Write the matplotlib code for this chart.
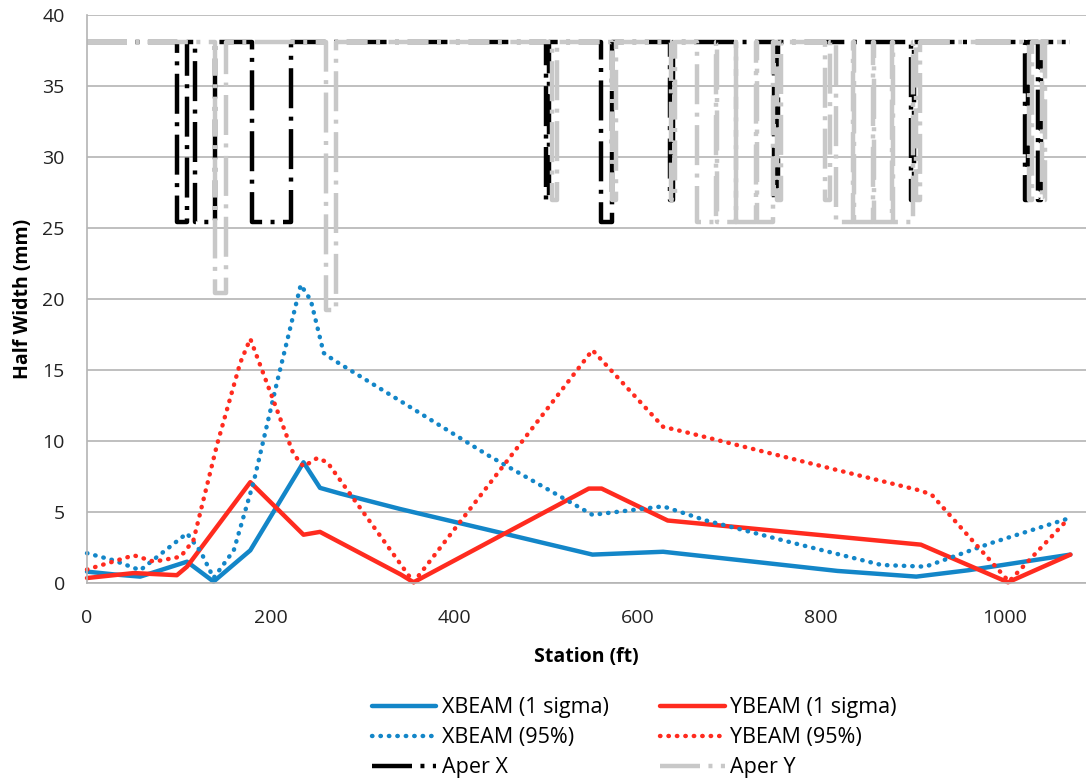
import numpy as np
import matplotlib.pyplot as plt

plt.rcParams['font.family'] = ['Open Sans', 'DejaVu Sans']

# beam half widths (station in ft, half width in mm)
xb_sig_s = [0, 30, 58, 80, 109, 138, 178, 236, 254, 276, 342, 450, 551, 628, 713, 818, 904, 961, 1072]
xb_sig_v = [0.8, 0.6, 0.45, 0.9, 1.5, 0.1, 2.3, 8.5, 6.7, 6.3, 5.2, 3.55, 2.0, 2.2, 1.6, 0.85, 0.45, 0.9, 2.0]

yb_sig_s = [0, 51, 98, 109, 178, 236, 254, 342, 356, 547, 561, 633, 909, 1004, 1072]
yb_sig_v = [0.35, 0.7, 0.55, 1.15, 7.1, 3.4, 3.6, 0.6, 0.05, 6.65, 6.65, 4.4, 2.7, 0.05, 2.0]

xb_95_s = [0, 29, 58, 109, 124, 138, 160, 182, 207, 233, 244, 258, 269, 342, 437, 551, 628, 675, 771, 866, 914, 985, 1070]
xb_95_v = [2.1, 1.6, 0.9, 3.5, 2.2, 0.35, 2.3, 7.2, 14.1, 21.0, 19.9, 16.2, 15.7, 12.8, 9.0, 4.8, 5.4, 4.4, 2.8, 1.27, 1.15, 2.8, 4.55]

yb_95_s = [0, 51, 73, 102, 116, 142, 167, 178, 196, 225, 236, 251, 262, 356, 551, 628, 651, 818, 909, 921, 1005, 1068]
yb_95_v = [0.95, 1.95, 1.5, 1.85, 3.0, 9.8, 15.5, 17.2, 14.1, 9.1, 8.2, 8.8, 8.5, 0.05, 16.4, 11.0, 10.65, 7.95, 6.5, 6.2, 0.1, 4.4]

# apertures: piecewise constant, level holds from each edge to the next
aper_x_edges = [0, 98, 108.5, 117.5, 140, 180, 222, 500, 504, 560, 572, 636, 639, 749, 753,
                898, 902, 1023, 1026, 1037, 1040, 1072]
aper_x_level = [38.1, 25.4, 38.1, 25.4, 38.1, 25.4, 38.1, 27, 38.1, 25.4, 38.1, 27, 38.1, 27, 38.1,
                27, 38.1, 27, 38.1, 27, 38.1, 38.1]

aper_y_edges = [0, 140, 152, 260, 271, 507, 512, 572, 577, 637, 641, 665, 686, 687, 707, 708, 729, 730,
                748, 752, 756, 805, 810, 816, 835, 836, 857, 858, 878, 879, 900, 904, 908, 1027, 1030,
                1041, 1044, 1072]
aper_y_level = [38.1, 20.4, 38.1, 19.2, 38.1, 27, 38.1, 27, 38.1, 27, 38.1, 25.4, 38.1, 25.4, 38.1, 25.4,
                38.1, 25.4, 38.1, 27, 38.1, 27, 38.1, 25.4, 38.1, 25.4, 38.1, 25.4, 38.1, 25.4, 38.1, 27,
                38.1, 27, 38.1, 27, 38.1, 38.1]

blue = '#1386C8'
red = '#FF2B1F'
grey = '#C8C8C8'
grid = '#B4B4B4'

fig = plt.figure(figsize=(10.86, 7.8), dpi=100)
ax = fig.add_axes([87 / 1086, 1 - 583 / 780, 1 - 87 / 1086, 568 / 780])

lw = 3.2
dash_dot = (0, (9, 1.9, 0.9, 1.9))
dots = (0, (0.1, 1.8))

ax.plot(xb_sig_s, xb_sig_v, color=blue, lw=lw, label='XBEAM (1 sigma)', clip_on=False,
        solid_joinstyle='round', solid_capstyle='round')
ax.plot(yb_sig_s, yb_sig_v, color=red, lw=lw, label='YBEAM (1 sigma)', clip_on=False,
        solid_joinstyle='round', solid_capstyle='round')
ax.plot(xb_95_s, xb_95_v, color=blue, lw=lw, ls=dots, dash_capstyle='round',
        label='XBEAM (95%)', clip_on=False)
ax.plot(yb_95_s, yb_95_v, color=red, lw=lw, ls=dots, dash_capstyle='round',
        label='YBEAM (95%)', clip_on=False)
ax.plot(aper_x_edges, aper_x_level, color='black', lw=lw, ls=dash_dot, drawstyle='steps-post',
        label='Aper X', clip_on=False)
ax.plot(aper_y_edges, aper_y_level, color=grey, lw=lw, ls=dash_dot, drawstyle='steps-post',
        label='Aper Y', clip_on=False)

ax.set_xlim(0, 1089)
ax.set_ylim(0, 40)
ax.set_xticks(np.arange(0, 1001, 200))
ax.set_yticks(np.arange(0, 41, 5))
ax.grid(axis='y', color=grid, lw=1.2)
ax.set_axisbelow(True)
for side in ['top', 'right']:
    ax.spines[side].set_visible(False)
for side in ['left', 'bottom']:
    ax.spines[side].set_color(grid)
    ax.spines[side].set_linewidth(1.2)
ax.tick_params(length=0, labelsize=14, colors='#222222')
ax.tick_params(axis='x', pad=19)
ax.tick_params(axis='y', pad=16)

ax.set_xlabel('Station (ft)', fontsize=14, fontweight='bold', labelpad=14)
ax.set_ylabel('Half Width (mm)', fontsize=14, fontweight='bold', labelpad=7)

h, l = ax.get_legend_handles_labels()
order = [0, 2, 4, 1, 3, 5]
fig.legend([h[i] for i in order], [l[i] for i in order], ncol=2, loc='center',
           bbox_to_anchor=(0.584, 0.054), frameon=False, fontsize=15.5,
           handlelength=3.0, handletextpad=0.25, columnspacing=2.4, labelspacing=0.42)

fig.savefig('out.png', dpi=100)
